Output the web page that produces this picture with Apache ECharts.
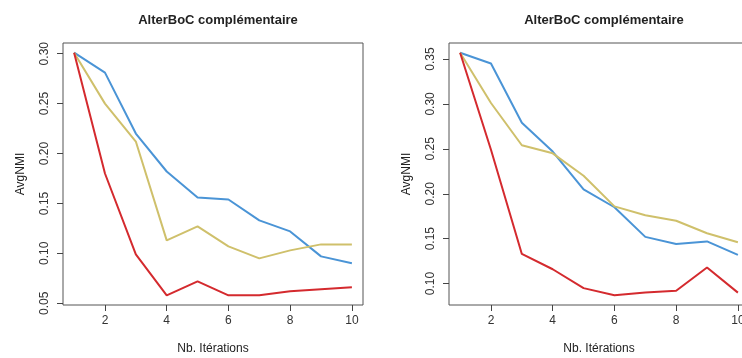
<!DOCTYPE html>
<html><head><meta charset="utf-8">
<script src="https://cdn.jsdelivr.net/npm/echarts@6/dist/echarts.min.js"></script>
<style>html,body{margin:0;padding:0;background:#fff}#c{width:742px;height:358px}</style>
</head><body><div id="c"></div>
<script>
const iterations = [1,2,3,4,5,6,7,8,9,10];
const xTicks = [2,4,6,8,10];
// Left panel
const leftBlue   = [0.301,0.281,0.220,0.182,0.156,0.154,0.133,0.122,0.097,0.090];
const leftYellow = [0.301,0.250,0.212,0.113,0.127,0.107,0.095,0.103,0.109,0.109];
const leftRed    = [0.301,0.180,0.099,0.058,0.072,0.058,0.058,0.062,0.064,0.066];
const leftYTicks = [0.05,0.10,0.15,0.20,0.25,0.30];
// Right panel
const rightBlue   = [0.357,0.345,0.279,0.247,0.205,0.185,0.152,0.144,0.147,0.132];
const rightYellow = [0.357,0.301,0.254,0.245,0.220,0.186,0.176,0.170,0.156,0.146];
const rightRed    = [0.357,0.249,0.133,0.116,0.095,0.087,0.090,0.092,0.118,0.090];
const rightYTicks = [0.10,0.15,0.20,0.25,0.30,0.35];

const title = "AlterBoC complémentaire";
const xName = "Nb. Itérations";
const yName = "AvgNMI";

const colors = {blue:'#4a94d6', yellow:'#cfc06b', red:'#d42a2e'};
const font = "'Liberation Sans', Arial, Helvetica, sans-serif";
const axisCol = '#444';

function rng(arrs){
  const all = arrs.flat();
  const mn = Math.min(...all), mx = Math.max(...all);
  const d = (mx-mn)*0.04;
  return [mn-d, mx+d];
}
const xr = [1-9*0.04, 10+9*0.04];
const lr = rng([leftBlue,leftYellow,leftRed]);
const rr = rng([rightBlue,rightYellow,rightRed]);

function xAxis(i){
  return {gridIndex:i, type:'value', min:xr[0], max:xr[1],
    name:xName, nameLocation:'middle', nameGap:38,
    nameTextStyle:{fontFamily:font,fontSize:12,color:'#222'},
    axisLine:{show:false}, splitLine:{show:false},
    axisTick:{show:true, length:6, customValues:xTicks, lineStyle:{color:axisCol}},
    axisLabel:{customValues:xTicks, margin:10, fontFamily:font, fontSize:12, color:'#333'}};
}
function yAxis(i, r, ticks){
  return {gridIndex:i, type:'value', min:r[0], max:r[1],
    name:yName, nameLocation:'middle', nameGap:36,
    nameTextStyle:{fontFamily:font,fontSize:12,color:'#222'},
    axisLine:{show:false}, splitLine:{show:false},
    axisTick:{show:true, length:6, customValues:ticks, lineStyle:{color:axisCol}},
    axisLabel:{customValues:ticks, rotate:90, margin:12, fontFamily:font, fontSize:12, color:'#333',
      formatter:v=>v.toFixed(2)}};
}
function line(i, data, col){
  return {type:'line', xAxisIndex:i, yAxisIndex:i, showSymbol:false, symbol:'none',
    data: iterations.map((x,k)=>[x,data[k]]), lineStyle:{color:col,width:2}, itemStyle:{color:col},
    animation:false};
}
const chart = echarts.init(document.getElementById('c'), null, {renderer:'canvas'});
chart.setOption({
  animation:false,
  backgroundColor:'#fff',
  title:[
    {text:title, left:213, top:9, textAlign:'center', textStyle:{fontFamily:font,fontSize:13,fontWeight:'bold',color:'#222'}},
    {text:title, left:599, top:9, textAlign:'center', textStyle:{fontFamily:font,fontSize:13,fontWeight:'bold',color:'#222'}}
  ],
  grid:[
    {left:63, top:43, width:300, height:262, show:true, borderColor:'#555', borderWidth:1, backgroundColor:'transparent', containLabel:false, outerBoundsMode:'none'},
    {left:449, top:43, width:300, height:262, show:true, borderColor:'#555', borderWidth:1, backgroundColor:'transparent', containLabel:false, outerBoundsMode:'none'}
  ],
  xAxis:[xAxis(0), xAxis(1)],
  yAxis:[yAxis(0, lr, leftYTicks), yAxis(1, rr, rightYTicks)],
  series:[
    line(0,leftBlue,colors.blue), line(0,leftYellow,colors.yellow), line(0,leftRed,colors.red),
    line(1,rightBlue,colors.blue), line(1,rightYellow,colors.yellow), line(1,rightRed,colors.red)
  ]
});
</script></body></html>
